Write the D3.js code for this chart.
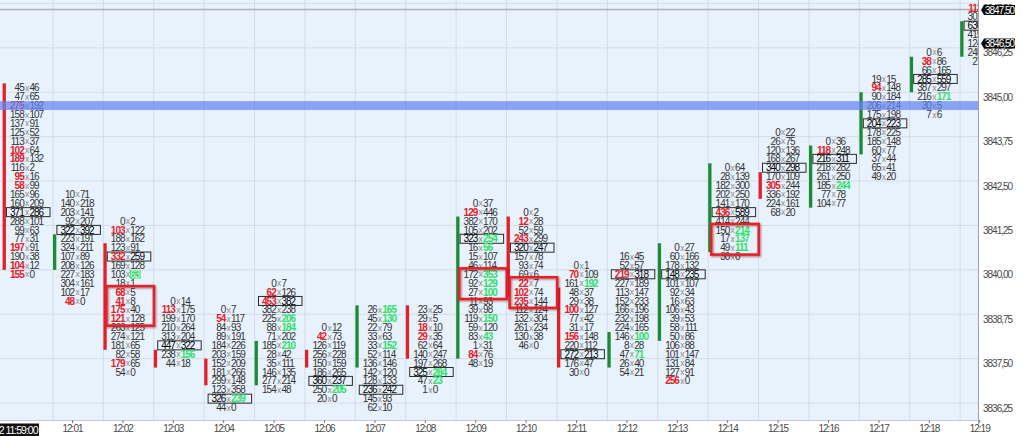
<!DOCTYPE html>
<meta charset="utf-8">
<head>
<style>
body { margin: 0; background: #fff; }
svg { display: block; font-family: 'Liberation Sans Narrow', 'Arial Narrow', sans-serif; }
svg.wide text { font-family: 'Liberation Sans', Arial, sans-serif; letter-spacing: -1px; }
.num { font-size: 10px; fill: #333; }
.num .sep { font-size: 8.5px; fill: #8a8a8a; font-weight: normal; }
.num .hot-bid { fill: #e3202a; font-weight: bold; }
.num .hot-ask { fill: #2fe06a; font-weight: bold; }
.num.boxed { fill: #000; }
.grid line { stroke: #d3dce8; stroke-width: 1; }
.price-axis text, .time-axis text { font-size: 10px; fill: #4a4a4a; }
.time-axis line { stroke: #777; }
</style>
<title>Footprint 12:00 - 12:19</title>
</head>
<body>
<svg id="chart" width="1024" height="436"></svg>
<script src="https://d3js.org/d3.v7.min.js"></script>
<script>
// one column per minute
var times = ["12:00","12:01","12:02","12:03","12:04","12:05","12:06","12:07","12:08","12:09",
             "12:10","12:11","12:12","12:13","12:14","12:15","12:16","12:17","12:18","12:19"];

// price of the first (highest) row of each column
var topPrices = [3845.25, 3842.25, 3841.50, 3839.25, 3839.00, 3839.75, 3838.50, 3839.00, 3839.00, 3842.00,
                 3841.75, 3840.25, 3840.50, 3840.75, 3843.00, 3844.00, 3843.75, 3845.50, 3846.25, 3847.50];

// candle body (open / close)
var opens  = [3845.25, 3840.25, 3840.75, 3837.75, 3837.50, 3837.00, 3837.75, 3837.50, 3839.00, 3837.75,
              3841.50, 3839.50, 3837.50, 3838.25, 3840.75, 3842.75, 3842.00, 3843.50, 3845.25, 3846.25];
var closes = [3840.25, 3841.00, 3838.00, 3837.50, 3837.00, 3838.00, 3837.50, 3839.00, 3837.75, 3841.50,
              3839.50, 3837.50, 3838.25, 3840.75, 3843.00, 3842.25, 3843.50, 3845.00, 3846.00, 3847.00];

// bid x ask per row, top to bottom.  "#" = max volume row, "!" after bid = red, "!" after ask = green, "^" = green cell
var m1200 = ["45x46","47x65","275!x192","158x107","137x91","125x52","113x37","102!x64","189!x132","116x2","95!x16",
             "58!x99","165x96","160x209","#371x286","288x101","99x63","77x31","197!x91","190x38","104!x12","155!x0"];
var m1201 = ["10x71","140x218","203x141","92x207","#322x392","223x191","324x211","107x89","208x126","227x183",
             "304x161","102x17","48!x0"];
var m1202 = ["0x2","103!x122","188x162","123x91","#332!x259","169x128","103x63^","18x1","68!x5","41!x8","175!x40",
             "121!x128","263x125","274x121","181x65","82x58","179!x65","54x0"];
var m1203 = ["0x14","113!x175","199x170","210x264","313x204","#447x322","238x156!","44x18"];
var m1204 = ["0x7","54!x117","84x93","89x191","184x226","203x159","152x209","181x266","299x148","123x358",
             "#326x239!","44x0"];
var m1205 = ["0x7","62!x126","#453!x382","382x238","225x206!","88x184!","71x202","185x210!","28x42","35x111",
             "146x135","277x214","154x48"];
var m1206 = ["0x12","42!x73","126x119","256x228","150x159","186x265","#360x237","250x205!","20x0"];
var m1207 = ["26x165!","45x130!","22x79","33x63","33x152!","52x114","136x146","142x120","128x133","#236x242",
             "145x93","62x10"];
var m1208 = ["23x25","29x5","18!x10","29!x35","62x64","140x247","197x268","#325x284!","47x23!","1x0"];
var m1209 = ["0x37","129!x446","382x170","105x202","#323x254!","16x56!","15x107","46x114","172x353!","92x129!",
             "27x100!","11x93","39x98","119x150!","59x120","83x43!","1x31","84!x76","48x19"];
var m1210 = ["0x2","12!x28","52x59","243!x299","#320x247","157x78","93x74","69x6","22!x7","102!x74","235!x144",
             "112x124","132x304","261x234","130x38","46x0"];
var m1211 = ["0x1","70!x109","161x192!","48x37","29x38","100!x127","77x42","31x17","156!x148","220x112",
             "#272x213","176x47","30x0"];
var m1212 = ["16x45","52x57","#219!x318","227x189","113x147","152x233","166x196","232x198","224x165","146x100!",
             "8x28","47x71!","26x40","54x21"];
var m1213 = ["0x27","60x166","178x132","#148x235","101x107","92x34","16x63","106x43","39x53","58x111","50x86",
             "106x88","101x147","131x84","127x91","256!x0"];
var m1214 = ["0x64","28x139","182x300","202x250","141x170","#436!x589","414x244","150x214!","17x137!","49x111!","30x0"];
var m1215 = ["0x22","26x75","120x136","168x267","#340x298","170x109","305!x244","336x192","224x161","68x20"];
var m1216 = ["0x36","118!x248","#216x311","218x282","261x250","185x244!","77x78","104x77"];
var m1217 = ["19x15","94!x148","90x184","206x214","175x198","#204x223","178x225","185x148","60x77","37x44",
             "65x41","49x20"];
var m1218 = ["0x6","38!x86","66x165","#285x559","387x297","216x171!","30x5","7x6"];
var m1219 = ["113!x41","301x266","#630x508","415x372","124x190","245x162","27x0"];

var footprint = [m1200, m1201, m1202, m1203, m1204, m1205, m1206, m1207, m1208, m1209,
                 m1210, m1211, m1212, m1213, m1214, m1215, m1216, m1217, m1218, m1219];

// red rectangles drawn on the chart
var boxTimes = ["12:02", "12:09", "12:10", "12:14"];
var boxHigh  = [3839.50, 3840.00, 3839.75, 3841.25];
var boxLow   = [3838.75, 3839.50, 3839.25, 3840.75];

var bandPrice = 3844.75;
var lastPrice = 3847.50;
var markPrice = 3846.50;
var gridPrices = d3.range(3847.50, 3836.24, -1.25);

var svg = d3.select("#chart"),
    width = +svg.attr("width"),
    height = +svg.attr("height"),
    plotR = 978, plotB = 420;

// use a narrow face, or squeeze the regular one if the narrow one is missing
var probe = svg.append("text").attr("class", "num").text("0000000000");
if (probe.node().getComputedTextLength() > 50) svg.classed("wide", true);
probe.remove();

var x = d3.scaleBand().domain(times).range([2, 2 + 50.4 * times.length]);
var y = d3.scaleLinear().domain([3847.5, 3836.25]).range([7.9, 407.5]);
var half = (y(3836.25) - y(3836.5)) / 2;

var defs = svg.append("defs");
defs.append("clipPath").attr("id", "plotclip")
  .append("rect").attr("width", plotR).attr("height", plotB);
var f = defs.append("filter").attr("id", "shadow").attr("x", "-10%").attr("y", "-10%")
  .attr("width", "130%").attr("height", "130%");
f.append("feDropShadow").attr("dx", 1).attr("dy", 1).attr("stdDeviation", 0.8)
  .attr("flood-color", "#7a0000").attr("flood-opacity", 0.55);

svg.append("rect").attr("width", plotR).attr("height", plotB).attr("fill", "#e8f2fc");

var plot = svg.append("g").attr("clip-path", "url(#plotclip)");

// grid
var grid = plot.append("g").attr("class", "grid");
grid.selectAll("line.h").data(gridPrices).enter().append("line")
    .attr("class", "h")
    .attr("x1", 0).attr("x2", plotR)
    .attr("y1", function(d) { return y(d) - half; })
    .attr("y2", function(d) { return y(d) - half; });
grid.selectAll("line.v").data(times.slice(1)).enter().append("line")
    .attr("class", "v")
    .attr("y1", 0).attr("y2", plotB)
    .attr("x1", function(d) { return x(d) + 0.5; })
    .attr("x2", function(d) { return x(d) + 0.5; });

// last price line
plot.append("line")
    .attr("x1", 0).attr("x2", plotR)
    .attr("y1", y(lastPrice) + 1.6).attr("y2", y(lastPrice) + 1.6)
    .attr("stroke", "#a8b0ba").attr("stroke-width", 1.5);

// candle bodies
plot.append("g").selectAll("rect").data(times).enter().append("rect")
    .attr("x", function(d) { return x(d) + 0.6; })
    .attr("width", 3.3)
    .attr("y", function(d, i) { return y(Math.max(opens[i], closes[i])) - half; })
    .attr("height", function(d, i) { return y(Math.min(opens[i], closes[i])) - y(Math.max(opens[i], closes[i])) + 2 * half; })
    .attr("fill", function(d, i) { return closes[i] > opens[i] ? "#1b8c36" : "#e3202a"; });

function parseCell(s) {
  var boxed = s.charAt(0) === "#";
  if (boxed) s = s.slice(1);
  var parts = s.split("x");
  return {
    boxed: boxed,
    bid: parts[0].replace("!", ""),
    bidHot: parts[0].indexOf("!") >= 0,
    ask: parts[1].replace(/[!^]/g, ""),
    askHot: parts[1].indexOf("!") >= 0,
    askFill: parts[1].indexOf("^") >= 0
  };
}

var cells = [];
footprint.forEach(function(col, i) {
  col.forEach(function(s, k) {
    var c = parseCell(s);
    c.time = times[i];
    c.price = topPrices[i] - 0.25 * k;
    cells.push(c);
  });
});

var cell = plot.append("g").selectAll("g").data(cells).enter().append("g")
    .attr("transform", function(d) { return "translate(" + (x(d.time) + 24.6) + "," + y(d.price) + ")"; });

cell.filter(function(d) { return d.boxed; }).append("rect")
    .attr("x", -20.1).attr("y", -4.5).attr("width", 43.5).attr("height", 9)
    .attr("fill", "none").attr("stroke", "#2a2a2a").attr("stroke-width", 1);

cell.filter(function(d) { return d.askFill; }).append("rect")
    .attr("x", 2.3).attr("y", -4.3).attr("height", 8.6)
    .attr("width", function(d) { return d.ask.length * 4.7 + 1.5; })
    .attr("fill", "#45d774");

// one text per row: bid right aligned, "x", ask left aligned
var row = cell.append("text")
    .attr("class", function(d) { return "num" + (d.boxed ? " boxed" : ""); })
    .attr("y", 3.6);
row.append("tspan")
    .attr("x", -2.9).attr("text-anchor", "end")
    .attr("class", function(d) { return d.bidHot ? "hot-bid" : null; })
    .text(function(d) { return d.bid; });
row.append("tspan")
    .attr("x", 0).attr("dy", -0.5).attr("text-anchor", "middle")
    .attr("class", "sep").text("x");
row.append("tspan")
    .attr("x", 2.9).attr("dy", 0.5).attr("text-anchor", "start")
    .attr("class", function(d) { return d.askHot ? "hot-ask" : null; })
    .attr("fill", function(d) { return d.askFill ? "#c9ffd9" : null; })
    .text(function(d) { return d.ask; });

// highlighted price row
plot.append("rect")
    .attr("x", 0).attr("width", plotR)
    .attr("y", y(bandPrice) - half).attr("height", 2 * half)
    .attr("fill", "rgb(100,130,240)").attr("opacity", 0.72);

// red rectangles
plot.append("g").selectAll("rect").data(boxTimes).enter().append("rect")
    .attr("x", function(d) { return x(d) + 3.6; })
    .attr("width", 47.5)
    .attr("y", function(d, i) { return y(boxHigh[i]) - half - 1.5; })
    .attr("height", function(d, i) { return y(boxLow[i]) - y(boxHigh[i]) + 2 * half + 4; })
    .attr("fill", "none").attr("stroke", "#e42028").attr("stroke-width", 2.5)
    .attr("filter", "url(#shadow)");

// axis areas
svg.append("rect").attr("x", plotR).attr("width", width - plotR).attr("height", height).attr("fill", "#fff");
svg.append("rect").attr("y", plotB).attr("width", plotR).attr("height", height - plotB).attr("fill", "#fff");
svg.append("line").attr("x1", plotR + 0.5).attr("x2", plotR + 0.5).attr("y1", 0).attr("y2", plotB + 4)
    .attr("stroke", "#9aa3ad");
svg.append("line").attr("x1", 0).attr("x2", plotR).attr("y1", plotB + 0.5).attr("y2", plotB + 0.5)
    .attr("stroke", "#c4ccd6");

var priceAxis = svg.append("g").attr("class", "price-axis")
    .attr("transform", "translate(" + plotR + ",0)")
    .call(d3.axisRight(y).tickValues(gridPrices).tickSize(0).tickPadding(5)
      .tickFormat(function(d) { return d.toFixed(2).replace(".", ","); }));
priceAxis.select(".domain").remove();
priceAxis.selectAll("text").attr("dy", "0.36em");

// price markers
[lastPrice, markPrice].forEach(function(p) {
  var cy = Math.max(y(p), 10);
  var g = svg.append("g").attr("transform", "translate(981," + cy + ")");
  g.append("path").attr("d", "M0,0L3,-5H34V5H3Z").attr("fill", "#0c0c0c");
  g.append("text").attr("x", 4).attr("y", 3.6).attr("fill", "#fff").style("font-size", "10px")
    .text(p.toFixed(2).replace(".", ","));
});

var xt = d3.scaleLinear().domain([0, times.length - 1])
    .range([x(times[0]) + 19.6, x(times[times.length - 1]) + 19.6]);
var timeAxis = svg.append("g").attr("class", "time-axis")
    .attr("transform", "translate(0," + plotB + ")")
    .call(d3.axisBottom(xt).tickValues(d3.range(1, times.length)).tickSize(3).tickPadding(2)
      .tickFormat(function(i) { return times[i]; }));
timeAxis.select(".domain").remove();

// crosshair time label
svg.append("rect").attr("x", 0).attr("y", 423.5).attr("width", 39).attr("height", 12.5).attr("fill", "#111");
svg.append("text").attr("x", 37.5).attr("y", 433.6).attr("text-anchor", "end")
    .attr("fill", "#fff").style("font-size", "10.5px").text("2 11:59:00");
</script>
</body>
